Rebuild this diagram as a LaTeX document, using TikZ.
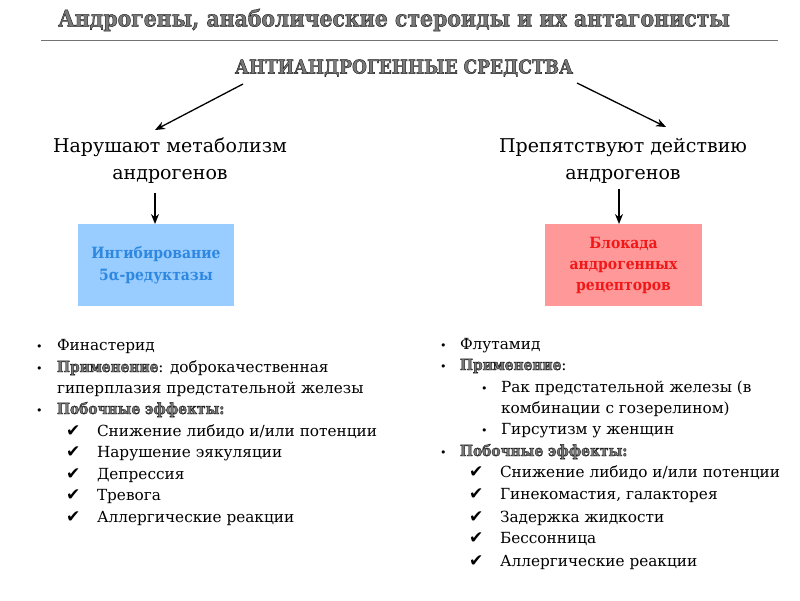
\documentclass[tikz,border=0pt]{standalone}
\usepackage{fontspec}
\setmainfont{DejaVu Serif}
\newfontfamily\condfont{DejaVu Serif Condensed}
\newfontfamily\symfont{DejaVu Sans}
\usetikzlibrary{arrows.meta}
\definecolor{boxblue}{HTML}{99CCFF}
\definecolor{txtblue}{HTML}{2F88E0}
\definecolor{boxred}{HTML}{FF9999}
\definecolor{txtred}{HTML}{F01818}
\definecolor{headgray}{HTML}{7A7A7A}
\newcommand\outl[1]{{\color{headgray}\special{pdf:literal direct 2 Tr 0.45 w 0.12 G}#1\special{pdf:literal direct 0 Tr 0 G}}}
\newcommand\hbold[1]{{\condfont\bfseries\outl{#1}}}
\begin{document}
\begin{tikzpicture}[x=1pt,y=-1pt,
  every node/.style={inner sep=0pt,outer sep=0pt},
  head/.style={font=\condfont\bfseries\fontsize{22.7}{26}\selectfont},
  sub/.style={font=\condfont\bfseries\fontsize{19}{21}\selectfont},
  cat/.style={font=\fontsize{19}{27}\selectfont, align=center, text=black},
  arr/.style={-{Stealth[length=10pt,width=8pt]}, line width=1.3pt},
  boxb/.style={fill=boxblue, minimum width=156pt, minimum height=82pt, align=center,
     font=\condfont\bfseries\fontsize{15.5}{22}\selectfont, text=txtblue},
  boxr/.style={fill=boxred, minimum width=157pt, minimum height=82pt, align=center,
     font=\condfont\bfseries\fontsize{15.5}{21}\selectfont, text=txtred},
  body/.style={font=\fontsize{15.3}{21}\selectfont, anchor=base west},
  blt/.style={font=\symfont\fontsize{11}{12}\selectfont, anchor=base west},
  chk/.style={font=\symfont\fontsize{17}{18}\selectfont, anchor=base west}
]
\useasboundingbox (0,0) rectangle (800,600);
\fill[white] (0,0) rectangle (800,600);

% title
\node[head] (title) at (394,20) {\outl{Андрогены, анаболические стероиды и их антагонисты}};
\coordinate (rl) at (41,40);
\coordinate (rr) at (778,40);
\draw[black!55, line width=0.9pt] (rl) -- (rr);

\node[sub] (anti) at (404,68) {\outl{АНТИАНДРОГЕННЫЕ СРЕДСТВА}};
\coordinate (al) at (243,84);
\coordinate (ar) at (577,83);

% categories
\node[cat] (catl) at (170,161) {Нарушают метаболизм\\андрогенов};
\node[cat] (catr) at (623,161) {Препятствуют действию\\андрогенов};
\coordinate (tl) at (155,130);
\coordinate (tr) at (666,127);
\draw[arr] (al) -- (tl);
\draw[arr] (ar) -- (tr);

% boxes
\node[boxb] (bb) at (156,265) {Ингибирование\\5α-редуктазы};
\node[boxr] (br) at (623.5,265) {Блокада\\андрогенных\\рецепторов};
\coordinate (dl) at (155,193);
\coordinate (dr) at (619,189);
\draw[arr] (dl) -- (bb.north -| dl);
\draw[arr] (dr) -- (br.north -| dr);

% left list
\node[blt] (lb1) at (36,350) {•};
\node[body] (l1) at (57,350) {Финастерид};
\node[blt] (lb2) at (36,372) {•};
\node[body] (l2) at (57,372) {\hbold{Применение}: доброкачественная};
\node[body] (l3) at (57,393) {гиперплазия предстательной железы};
\node[blt] (lb4) at (36,414) {•};
\node[body] (l4) at (57,414) {\hbold{Побочные эффекты:}};
\node[chk] (lc1) at (66,436) {✔};
\node[body] (l5) at (97,436) {Снижение либидо и/или потенции};
\node[chk] (lc2) at (66,457) {✔};
\node[body] (l6) at (97,457) {Нарушение эякуляции};
\node[chk] (lc3) at (66,479) {✔};
\node[body] (l7) at (97,479) {Депрессия};
\node[chk] (lc4) at (66,500) {✔};
\node[body] (l8) at (97,500) {Тревога};
\node[chk] (lc5) at (66,522) {✔};
\node[body] (l9) at (97,522) {Аллергические реакции};

% right list
\node[blt] (rb1) at (440,349) {•};
\node[body] (r1) at (460,349) {Флутамид};
\node[blt] (rb2) at (440,370) {•};
\node[body] (r2) at (460,370) {\hbold{Применение}:};
\node[blt] (rb3) at (481,392) {•};
\node[body] (r3) at (501,392) {Рак предстательной железы (в};
\node[body] (r4) at (501,413) {комбинации с гозерелином)};
\node[blt] (rb5) at (481,434) {•};
\node[body] (r5) at (501,434) {Гирсутизм у женщин};
\node[blt] (rb6) at (440,456) {•};
\node[body] (r6) at (460,456) {\hbold{Побочные эффекты:}};
\node[chk] (rc1) at (469,477) {✔};
\node[body] (r7) at (500,477) {Снижение либидо и/или потенции};
\node[chk] (rc2) at (469,499) {✔};
\node[body] (r8) at (500,499) {Гинекомастия, галакторея};
\node[chk] (rc3) at (469,522) {✔};
\node[body] (r9) at (500,522) {Задержка жидкости};
\node[chk] (rc4) at (469,543) {✔};
\node[body] (r10) at (500,543) {Бессонница};
\node[chk] (rc5) at (469,566) {✔};
\node[body] (r11) at (500,566) {Аллергические реакции};
\end{tikzpicture}
\end{document}
